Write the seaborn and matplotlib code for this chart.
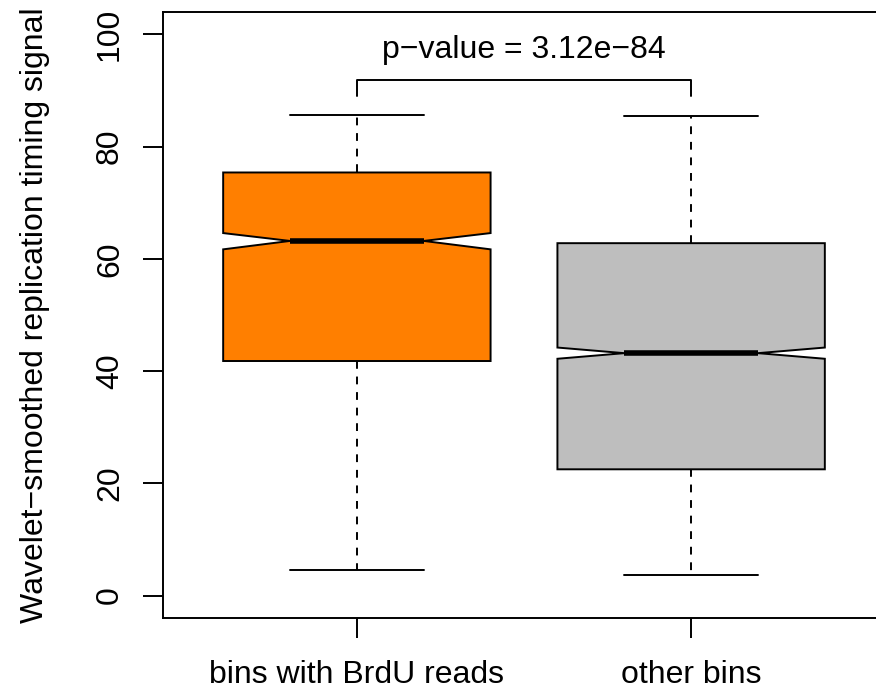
import seaborn as sns
import matplotlib.pyplot as plt

# Values (boxplot summary per group)
groups = ["bins with BrdU reads", "other bins"]
medians = [63.2, 43.2]
q1s = [41.8, 22.5]
q3s = [75.4, 62.8]
whisker_lo = [4.6, 3.7]
whisker_hi = [85.6, 85.4]
notch_lo = [61.7, 42.2]
notch_hi = [64.6, 44.2]
box_colors = ["#FF7F00", "#BEBEBE"]

p_label = "p\u2212value = 3.12e\u221284"
bracket_hi = 91.9
bracket_lo = 89.0
p_label_y = 97.2

sns.set_theme(style="ticks")
plt.rcParams['font.family'] = ['Liberation Sans', 'DejaVu Sans']
plt.rcParams.update({"text.color": "black", "axes.labelcolor": "black",
                     "xtick.color": "black", "ytick.color": "black",
                     "axes.edgecolor": "black"})
fs = 23
lw = 1.4

fig = plt.figure(figsize=(8.76, 6.95), dpi=100)
ax = fig.add_axes([163 / 876, 1 - 618 / 695, (885 - 163) / 876, (618 - 12) / 695])

stats = []
for i, name in enumerate(groups):
    stats.append({
        "label": name,
        "med": medians[i],
        "q1": q1s[i],
        "q3": q3s[i],
        "whislo": whisker_lo[i],
        "whishi": whisker_hi[i],
        "cilo": notch_lo[i],
        "cihi": notch_hi[i],
        "fliers": [],
    })

positions = list(range(1, len(groups) + 1))
bp = ax.bxp(stats, positions=positions, widths=0.8, capwidths=0.4,
            shownotches=True, patch_artist=True, showfliers=False,
            boxprops=dict(edgecolor="black", linewidth=lw),
            whiskerprops=dict(color="black", linewidth=lw, linestyle=(0, (4, 4))),
            capprops=dict(color="black", linewidth=lw),
            medianprops=dict(color="black", linewidth=4, solid_capstyle="butt"))
for box, c in zip(bp["boxes"], box_colors):
    box.set_facecolor(c)

# significance bracket
ax.plot([positions[0], positions[0], positions[1], positions[1]],
        [bracket_lo, bracket_hi, bracket_hi, bracket_lo], color="black", lw=lw)
ax.text((positions[0] + positions[1]) / 2, p_label_y, p_label,
        ha="center", va="center", fontsize=fs, color="black")

ax.set_xlim(0.42, 2.58)
ax.set_ylim(-4, 104)
ax.set_yticks([0, 20, 40, 60, 80, 100])
ax.set_xticks(positions)
ax.set_xticklabels(groups)
ax.set_ylabel("Wavelet\u2212smoothed replication timing signal", fontsize=fs,
              labelpad=32, color="black")

ax.tick_params(axis="both", length=14.4, width=lw, labelsize=fs,
               color="black", labelcolor="black")
ax.tick_params(axis="x", pad=16)
ax.tick_params(axis="y", pad=13, labelrotation=90)
for lab in ax.get_yticklabels():
    lab.set_va("center")
for sp in ax.spines.values():
    sp.set_linewidth(lw)
    sp.set_color("black")
    sp.set_visible(True)
ax.grid(False)

fig.savefig("out.png", dpi=100)
